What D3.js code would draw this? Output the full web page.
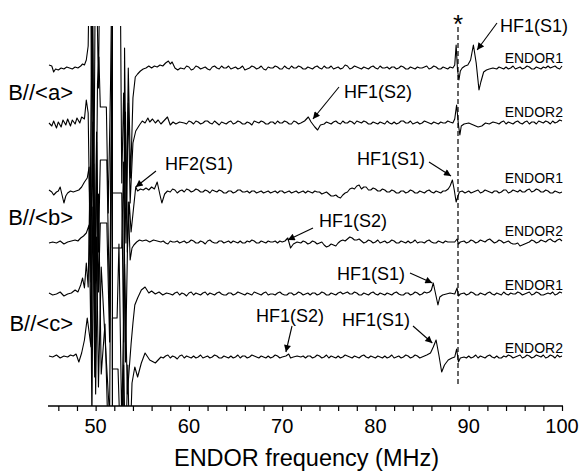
<!DOCTYPE html>
<html><head><meta charset="utf-8">
<script src="https://cdn.jsdelivr.net/npm/d3@7"></script>
<style>
html,body{margin:0;padding:0;background:#fff;}
svg{display:block;font-family:"Liberation Sans",Arial,sans-serif;}
</style></head>
<body><svg id="chart" width="581" height="472"></svg>
<script>
// ---- data (frequency in MHz, signal in arbitrary units relative to each trace baseline) ----
const freqDomain = [45, 100];
const majorTicks = [50, 60, 70, 80, 90, 100];
const minorTicks = [46,48,50,52,54,56,58,60,62,64,66,68,70,72,74,76,78,80,82,84,86,88,90,92,94,96,98,100];
const traceNames = ["ENDOR1","ENDOR2","ENDOR1","ENDOR2","ENDOR1","ENDOR2"];
const traceOffsets = [338, 283, 214, 164, 112, 49];
const orientationLabels = ["B//<a>", "B//<b>", "B//<c>"];
const starFreq = 88.85;

const trace1 = [
[45.0,3],[45.3,2],[45.5,-4],[45.7,-1],[46.0,-2],[46.3,0],[46.6,-1],[46.9,1],[47.2,0],[47.5,-1],[47.8,1],[48.1,0],[48.4,2],[48.6,4],[48.8,3],[49.0,8],[49.2,22],
[49.4,150],[49.6,-50],[49.8,-140],[50.0,150],[50.3,-20],[50.5,150],[51.8,150],[51.8,-360],[53.0,-360],[53.1,20],[53.3,-150],[53.5,0],[53.75,-110],[54.0,-30],[54.25,-9],
[54.5,-6],[54.8,-3],[55.1,-1],[55.4,0],[55.7,2],[56.0,0],[56.3,2],[56.6,1],[56.9,3],[57.2,2],[57.5,5],[57.8,7],[58.0,4],[58.2,6],[58.5,0],[58.8,-2],[59.1,0],[59.5,-1],[60.0,1],[60.5,-1],[61.0,1],[61.5,0],[62.0,-1],[62.5,1],[63.0,0],[63.5,2],[64.0,0],[64.5,-1],[65.0,1],[65.5,0],[66.0,-2],[66.5,0],[67.0,1],[67.5,0],[68.0,-1],[68.5,1],[69.0,0],[69.5,1],[70.0,-1],[70.5,0],[71.0,2],[71.5,0],[72.0,1],[72.5,-1],[73.0,0],[73.5,1],[74.0,0],[74.5,2],[75.0,0],[75.5,-1],[76.0,1],[76.5,0],[77.0,2],[77.5,0],[78.0,1],[78.5,-1],[79.0,0],[79.5,1],[80.0,0],[80.5,2],[81.0,0],[81.5,-1],[82.0,1],[82.5,0],[83.0,1],[83.5,-1],[84.0,0],[84.5,1],[85.0,0],[85.5,2],[86.0,0],[86.5,1],[87.0,-1],[87.5,0],[88.0,1],[88.3,0],[88.5,3],[88.65,23],[88.8,-2],[88.95,-12],[89.1,-3],[89.3,0],[89.6,2],[89.9,3],[90.2,8],[90.5,23],[90.8,5],[91.1,-22],[91.3,-14],[91.6,-4],[91.9,-2],[92.2,-1],[92.6,0],[93.0,-1],[93.5,0],[94.0,1],[94.5,0],[95.0,-1],[95.5,1],[96.0,0],[96.5,1],[97.0,-1],[97.5,0],[98.0,1],[98.5,2],[99.0,1],[99.5,0],[100.0,2]
];
const trace1Fine = [
[59.75,2],[60.25,-2],[60.75,2],[61.25,-1],[61.75,1],[62.25,-2],[62.75,2],[63.25,-1],[63.75,0],[64.25,2],[64.75,0],[65.25,-1],[65.75,2],[66.25,-1],[66.75,2],[67.25,-1],[67.75,2],[68.25,-2],[68.75,0],[69.25,2],[69.75,-1],[70.25,2],[70.75,-1],[71.25,0],[71.75,2],[72.25,-1],[72.75,1],[73.25,-1],[73.75,2],[74.25,-1],[74.75,0],[75.25,2],[75.75,0],[76.25,-1],[76.75,3],[77.25,-1],[77.75,2],[78.25,0],[78.75,1],[79.25,-1],[79.75,2],[80.25,-1],[80.75,0],[81.25,1],[81.75,1],[82.25,-1],[82.75,2],[83.25,-1],[83.75,1],[84.25,-1],[84.75,0],[85.25,1],[85.75,-1],[86.25,2],[86.75,-1],[87.25,1],[87.75,-1],
[93.25,1],[93.75,-1],[94.25,-1],[94.75,2],[95.25,0],[95.75,-1],[96.25,2],[96.75,-1],[97.25,1],[97.75,-1],[98.25,0],[98.75,0],[99.25,2],[99.75,-1]
];
const trace2 = [
[45.0,0],[45.3,-3],[45.5,2],[45.8,-5],[46.0,1],[46.3,-4],[46.5,3],[46.8,-2],[47.0,4],[47.3,-3],[47.5,3],[47.8,-1],[48.0,5],[48.3,0],[48.5,6],[48.8,4],[49.0,23],[49.2,10],
[49.4,-120],[49.6,150],[49.8,-40],[50.0,-160],[50.2,40],[50.35,66],[50.5,16],[51.15,16],[51.35,-90],[51.6,40],[51.8,200],[52.6,200],[52.8,-60],[53.0,30],[53.25,-120],[53.5,20],[53.7,-80],[54.0,-20],[54.3,-8],
[54.7,-2],[55.0,2],[55.3,0],[55.6,5],[55.8,1],[56.1,4],[56.4,0],[56.7,3],[57.0,-1],[57.3,2],[57.7,6],[58.0,-2],[58.3,1],[58.6,-1],[59.0,1],[59.5,0],[60.0,2],[60.5,-1],[61.0,1],[61.5,0],[62.0,2],[62.5,-1],[63.0,0],[63.5,1],[64.0,-1],[64.5,2],[65.0,0],[65.5,1],[66.0,-1],[66.5,0],[67.0,2],[67.5,0],[68.0,1],[68.5,-1],[69.0,1],[69.5,2],[70.0,0],[70.5,1],[71.0,-1],[71.5,1],[72.0,0],[72.4,2],[72.8,6],[73.1,1],[73.5,-4],[73.8,-7],[74.1,-2],[74.5,-1],[75.0,0],[75.5,1],[76.0,0],[76.5,2],[77.0,0],[77.5,1],[78.0,2],[78.5,0],[79.0,1],[79.5,-1],[80.0,0],[80.5,1],[81.0,-1],[81.5,0],[82.0,1],[82.5,0],[83.0,2],[83.5,0],[84.0,-1],[84.5,1],[85.0,0],[85.5,1],[86.0,-1],[86.5,0],[87.0,1],[87.5,0],[88.0,1],[88.3,0],[88.5,4],[88.7,18],[88.9,-2],[89.05,-12],[89.2,-3],[89.5,-1],[90.0,0],[90.5,-2],[91.0,-4],[91.4,-3],[91.8,0],[92.2,-1],[92.6,1],[93.0,0],[93.5,1],[94.0,-1],[94.5,0],[95.0,1],[95.5,0],[96.0,1],[96.5,-1],[97.0,1],[97.5,2],[98.0,0],[98.5,1],[99.0,2],[99.5,1],[100.0,2]
];
const trace2Fine = [
[59.75,-1],[60.25,1],[60.75,2],[61.25,-1],[61.75,2],[62.25,0],[62.75,2],[63.25,-2],[63.75,0],[64.25,1],[64.75,-1],[65.25,2],[65.75,-1],[66.25,1],[66.75,-2],[67.25,1],[67.75,2],[68.25,-1],[68.75,1],[69.25,-1],[69.75,0],[70.25,2],[70.75,-1],[71.25,2],[71.75,-1],
[74.75,1],[75.25,-1],[75.75,2],[76.25,-1],[76.75,0],[77.25,2],[77.75,-1],[78.25,1],[78.75,2],[79.25,-1],[79.75,1],[80.25,-1],[80.75,0],[81.25,2],[81.75,-1],[82.25,-1],[82.75,2],[83.25,0],[83.75,2],[84.25,0],[84.75,-1],[85.25,2],[85.75,0],[86.25,1],[86.75,-1],[87.25,0],[87.75,2],
[93.25,-1],[93.75,2],[94.25,1],[94.75,-1],[95.25,2],[95.75,-1],[96.25,2],[96.75,1],[97.25,-1],[97.75,1],[98.25,2],[98.75,-1],[99.25,0],[99.75,3]
];
const trace3 = [
[45.0,2],[45.3,0],[45.5,-3],[45.8,0],[46.0,1],[46.2,5],[46.4,-3],[46.6,-11],[46.8,-4],[47.0,-1],[47.3,1],[47.6,0],[47.9,1],[48.2,2],[48.5,5],[48.8,10],[49.1,14],[49.3,25],
[49.5,-90],[49.7,180],[49.9,-120],[50.1,60],[50.3,-60],[50.5,32],[51.2,32],[51.5,-120],[51.8,200],[51.8,-1],[52.8,-1],[53.0,-150],[53.2,80],[53.4,-60],[53.6,-10],[53.8,-40],[54.0,-22],[54.3,5],
[54.5,1],[54.8,3],[55.1,2],[55.4,4],[55.7,2],[56.0,5],[56.3,3],[56.6,10],[56.9,-3],[57.1,-11],[57.4,-2],[57.7,1],[58.0,0],[58.5,2],[59.0,1],[59.5,0],[60.0,2],[60.5,1],[61.0,2],[61.5,0],[62.0,1],[62.5,2],[63.0,0],[63.5,1],[64.0,-1],[64.5,1],[65.0,0],[65.5,2],[66.0,0],[66.5,-1],[67.0,1],[67.5,0],[68.0,-1],[68.5,1],[69.0,0],[69.5,-1],[70.0,1],[70.5,0],[71.0,-1],[71.5,1],[72.0,0],[72.5,-1],[73.0,0],[73.5,1],[74.0,0],[74.5,-1],[75.0,-2],[75.5,-4],[76.0,-5],[76.5,-3],[77.0,0],[77.5,4],[78.0,6],[78.5,3],[79.0,5],[79.5,2],[80.0,3],[80.5,1],[81.0,2],[81.5,0],[82.0,1],[82.5,-1],[83.0,1],[83.5,0],[84.0,1],[84.5,-1],[85.0,0],[85.5,1],[86.0,0],[86.5,1],[87.0,-1],[87.5,1],[87.8,3],[88.0,6],[88.25,12],[88.45,2],[88.65,-10],[88.85,-4],[89.0,0],[89.3,1],[89.6,-1],[90.0,1],[90.5,0],[91.0,2],[91.5,0],[92.0,1],[92.5,-1],[93.0,1],[93.5,0],[94.0,2],[94.5,0],[95.0,1],[95.5,2],[96.0,0],[96.5,3],[97.0,1],[97.5,2],[98.0,0],[98.5,1],[99.0,-1],[99.5,0],[100.0,0]
];
const trace3Fine = [
[58.25,3],[58.75,-1],[59.25,2],[59.75,3],[60.25,0],[60.75,3],[61.25,0],[61.75,2],[62.25,-1],[62.75,1],[63.25,2],[63.75,-1],[64.25,1],[64.75,-1],[65.25,2],[65.75,0],[66.25,1],[66.75,1],[67.25,-1],[67.75,1],[68.25,0],[68.75,-1],[69.25,1],[69.75,1],[70.25,-1],[70.75,1],[71.25,0],[71.75,-1],[72.25,1],[72.75,1],[73.25,-1],[73.75,0],[74.25,-2],[74.75,0],[75.25,-4],[75.75,-3],[76.25,-6],[76.75,-1],[77.25,3],[77.75,3],[78.25,7],[78.75,5],[79.25,2],[79.75,4],[80.25,1],[80.75,3],[81.25,0],[81.75,2],[82.25,-1],[82.75,1],[83.25,-1],[83.75,2],[84.25,-1],[84.75,1],[85.25,-1],[85.75,2],[86.25,-1],[86.75,0],[87.25,1],
[90.25,-1],[90.75,1],[91.25,-1],[91.75,2],[92.25,0],[92.75,1],[93.25,-1],[93.75,2],[94.25,-1],[94.75,2],[95.25,0],[95.75,0],[96.25,2],[96.75,0],[97.25,3],[97.75,0],[98.25,2],[98.75,-1],[99.25,1],[99.75,-1]
];
const trace4 = [
[45.0,-1],[45.4,0],[45.8,-1],[46.2,1],[46.6,-2],[47.0,0],[47.4,1],[47.8,2],[48.1,1],[48.4,4],[48.7,6],[49.0,9],[49.3,17],
[49.5,-100],[49.7,120],[49.9,-90],[50.1,100],[50.3,-50],[50.5,19],[51.2,19],[51.5,-100],[51.8,200],[51.8,-6],[52.8,-6],[53.0,80],[53.2,-120],[53.5,40],[53.7,-18],[53.9,-6],[54.1,-3],
[54.4,0],[54.7,2],[55.0,1],[55.4,2],[55.8,0],[56.2,2],[56.6,1],[57.0,0],[57.5,-1],[58.0,1],[58.5,0],[59.0,-1],[59.5,1],[60.0,0],[60.5,1],[61.0,-1],[61.5,0],[62.0,1],[62.5,0],[63.0,-1],[63.5,1],[64.0,0],[64.5,-1],[65.0,0],[65.5,1],[66.0,-1],[66.5,0],[67.0,1],[67.5,-1],[68.0,0],[68.5,1],[69.0,0],[69.5,-1],[70.0,0],[70.3,1],[70.6,4],[70.9,-6],[71.2,-2],[71.6,0],[72.0,-1],[72.5,0],[73.0,-1],[73.5,0],[74.0,-1],[74.5,-3],[75.0,-4],[75.5,-3],[76.0,-1],[76.5,2],[77.0,3],[77.5,4],[78.0,2],[78.5,1],[79.0,0],[79.5,1],[80.0,0],[80.5,-1],[81.0,1],[81.5,0],[82.0,1],[82.5,-1],[83.0,0],[83.5,1],[84.0,0],[84.5,-1],[85.0,0],[85.5,1],[86.0,0],[86.5,-1],[87.0,0],[87.5,1],[88.0,0],[88.5,0],[88.75,3],[88.9,-2],[89.1,0],[89.5,1],[90.0,0],[90.5,1],[91.0,0],[91.5,1],[92.0,2],[92.5,1],[93.0,0],[93.5,1],[94.0,0],[94.5,-1],[95.0,-2],[95.5,-4],[96.0,-2],[96.5,0],[97.0,1],[97.5,0],[98.0,1],[98.5,2],[99.0,1],[99.5,2],[100.0,1]
];
const trace4Fine = [
[57.25,1],[57.75,-2],[58.25,0],[58.75,1],[59.25,0],[59.75,-1],[60.25,2],[60.75,-1],[61.25,1],[61.75,-2],[62.25,2],[62.75,-1],[63.25,1],[63.75,-1],[64.25,1],[64.75,1],[65.25,-1],[65.75,-1],[66.25,1],[66.75,2],[67.25,-1],[67.75,1],[68.25,-1],[68.75,0],[69.25,1],[69.75,1],
[72.25,1],[72.75,-2],[73.25,1],[73.75,-2],[74.25,0],[74.75,-5],[75.25,-2],[75.75,-4],[76.25,1],[76.75,1],[77.25,5],[77.75,2],[78.25,3],[78.75,-1],[79.25,2],[79.75,-1],[80.25,2],[80.75,0],[81.25,-1],[81.75,2],[82.25,-1],[82.75,1],[83.25,-1],[83.75,-1],[84.25,2],[84.75,0],[85.25,-1],[85.75,2],[86.25,-1],[86.75,1],[87.25,-1],[87.75,0],
[89.75,-1],[90.25,2],[90.75,-1],[91.25,2],[91.75,0],[92.25,3],[92.75,-1],[93.25,2],[93.75,-1],[94.25,1],[94.75,-2],[95.25,-1],[95.75,-3],[96.25,-1],[96.75,2],[97.25,-1],[97.75,2],[98.25,0],[98.75,3],[99.25,0],[99.75,3]
];
const trace5 = [
[45.0,1],[45.4,-1],[45.8,0],[46.2,2],[46.6,-2],[47.0,0],[47.4,1],[47.8,4],[48.1,2],[48.4,9],[48.6,16],[48.8,6],[49.0,31],[49.2,7],
[49.4,120],[49.6,-130],[49.8,130],[50.0,-100],[50.3,100],[50.6,-80],[51.0,-30],[51.3,-130],[51.8,-130],[51.8,-24],[52.3,-24],[52.5,50],[52.8,-130],[53.1,30],[53.4,-100],[53.8,-50],[54.0,-29],[54.2,-11],
[54.5,-4],[54.9,4],[55.3,7],[55.7,1],[56.0,3],[56.4,0],[56.8,2],[57.2,-1],[57.6,1],[58.0,0],[58.5,1],[59.0,-1],[59.5,0],[60.0,1],[60.5,-1],[61.0,0],[61.5,1],[62.0,-1],[62.5,0],[63.0,1],[63.5,0],[64.0,-1],[64.5,1],[65.0,0],[65.5,1],[66.0,-1],[66.5,0],[67.0,2],[67.5,0],[68.0,1],[68.5,-1],[69.0,0],[69.5,1],[70.0,0],[70.5,-1],[71.0,1],[71.5,0],[72.0,1],[72.5,0],[73.0,-1],[73.5,1],[74.0,0],[74.5,1],[75.0,-1],[75.5,0],[76.0,1],[76.5,0],[77.0,2],[77.5,0],[78.0,1],[78.5,-1],[79.0,0],[79.5,1],[80.0,0],[80.5,1],[81.0,-1],[81.5,0],[82.0,1],[82.5,0],[83.0,-1],[83.5,1],[84.0,0],[84.5,1],[85.0,0],[85.5,1],[85.8,2],[86.0,4],[86.2,11],[86.45,0],[86.7,-11],[86.9,-3],[87.2,-1],[87.6,0],[88.0,1],[88.5,0],[88.75,6],[88.9,-2],[89.1,0],[89.5,1],[90.0,0],[90.5,1],[91.0,-1],[91.5,0],[92.0,1],[92.5,0],[93.0,1],[93.5,-1],[94.0,0],[94.5,1],[95.0,0],[95.5,1],[96.0,0],[96.5,2],[97.0,0],[97.5,1],[98.0,-1],[98.5,1],[99.0,2],[99.5,0],[100.0,1]
];
const trace5Fine = [
[58.25,-1],[58.75,2],[59.25,1],[59.75,-2],[60.25,2],[60.75,1],[61.25,-1],[61.75,2],[62.25,1],[62.75,-1],[63.25,2],[63.75,-1],[64.25,1],[64.75,-1],[65.25,2],[65.75,0],[66.25,1],[66.75,-1],[67.25,1],[67.75,-1],[68.25,2],[68.75,0],[69.25,-1],[69.75,2],[70.25,-1],[70.75,1],[71.25,-1],[71.75,2],[72.25,-1],[72.75,1],[73.25,1],[73.75,-1],[74.25,2],[74.75,-1],[75.25,1],[75.75,-1],[76.25,2],[76.75,1],[77.25,0],[77.75,2],[78.25,-1],[78.75,1],[79.25,-1],[79.75,2],[80.25,-1],[80.75,0],[81.25,1],[81.75,-1],[82.25,2],[82.75,-1],[83.25,1],[83.75,-1],[84.25,2],[84.75,-1],[85.25,2],
[89.75,-1],[90.25,2],[90.75,-1],[91.25,1],[91.75,-1],[92.25,2],[92.75,-1],[93.25,0],[93.75,2],[94.25,-1],[94.75,0],[95.25,2],[95.75,-1],[96.25,1],[96.75,-1],[97.25,2],[97.75,-1],[98.25,0],[98.75,0],[99.25,-1],[99.75,2]
];
const trace6 = [
[45.0,1],[45.4,0],[45.8,2],[46.2,-1],[46.6,1],[47.0,0],[47.3,2],[47.6,1],[47.9,3],[48.2,-5],[48.5,4],[48.8,17],[49.1,39],[49.3,25],[49.5,10],
[49.7,150],[49.9,-20],[50.1,120],[50.3,-30],[50.6,90],[51.0,20],[51.5,-60],[51.8,380],[51.8,-12],[52.4,-12],[52.7,-100],[53.0,-8],[53.2,-100],[53.45,-8],[53.65,-100],[53.9,-26],[54.2,-10],[54.5,-20],[54.9,-6],[55.3,4],[55.8,-3],[56.4,-6],[57.0,0],
[57.5,1],[58.0,-1],[58.5,0],[59.0,1],[59.5,-1],[60.0,0],[60.5,1],[61.0,0],[61.5,-1],[62.0,1],[62.5,0],[63.0,1],[63.5,-1],[64.0,0],[64.5,1],[65.0,0],[65.5,-1],[66.0,1],[66.5,0],[67.0,1],[67.5,-1],[68.0,0],[68.5,1],[69.0,0],[69.5,1],[70.0,0],[70.4,1],[70.7,3],[70.9,-1],[71.2,0],[71.6,1],[72.0,0],[72.5,-1],[73.0,1],[73.5,0],[74.0,1],[74.5,0],[75.0,-1],[75.5,0],[76.0,1],[76.5,0],[77.0,1],[77.5,-1],[78.0,0],[78.5,1],[79.0,0],[79.5,1],[80.0,-1],[80.5,0],[81.0,1],[81.5,0],[82.0,-1],[82.5,1],[83.0,0],[83.5,1],[84.0,0],[84.5,1],[85.0,0],[85.5,2],[85.9,4],[86.2,10],[86.5,17],[86.8,2],[87.1,-15],[87.4,-8],[87.8,-3],[88.2,-1],[88.5,0],[88.7,8],[88.9,-5],[89.1,-1],[89.5,0],[90.0,1],[90.5,0],[91.0,-1],[91.5,0],[92.0,1],[92.5,0],[93.0,1],[93.5,-1],[94.0,0],[94.5,1],[95.0,0],[95.5,2],[96.0,0],[96.5,1],[97.0,0],[97.5,1],[98.0,2],[98.5,0],[99.0,1],[99.5,2],[100.0,1]
];
const trace6Fine = [
[57.25,-1],[57.75,2],[58.25,1],[58.75,-2],[59.25,2],[59.75,1],[60.25,-1],[60.75,-1],[61.25,2],[61.75,0],[62.25,-1],[62.75,2],[63.25,-1],[63.75,1],[64.25,-1],[64.75,-1],[65.25,2],[65.75,1],[66.25,-1],[66.75,2],[67.25,0],[67.75,1],[68.25,-1],[68.75,-1],[69.25,2],[69.75,-1],
[72.25,1],[72.75,1],[73.25,-1],[73.75,2],[74.25,-1],[74.75,2],[75.25,1],[75.75,-1],[76.25,-1],[76.75,2],[77.25,0],[77.75,1],[78.25,-1],[78.75,2],[79.25,-1],[79.75,0],[80.25,1],[80.75,-1],[81.25,-1],[81.75,2],[82.25,0],[82.75,-1],[83.25,2],[83.75,-1],[84.25,2],[84.75,-1],[85.25,1],
[89.75,-1],[90.25,-1],[90.75,2],[91.25,1],[91.75,-1],[92.25,2],[92.75,-1],[93.25,-1],[93.75,1],[94.25,2],[94.75,-1],[95.25,1],[95.75,-1],[96.25,2],[96.75,-1],[97.25,2],[97.75,0],[98.25,-1],[98.75,2],[99.25,-1],[99.75,0]
];
const traceSamples = [[trace1, trace1Fine],[trace2, trace2Fine],[trace3, trace3Fine],[trace4, trace4Fine],[trace5, trace5Fine],[trace6, trace6Fine]];

// annotation texts and the peak (frequency, trace index, signal) each arrow points to
const annotationTexts = ["HF1(S1)","HF1(S2)","HF2(S1)","HF1(S1)","HF1(S2)","HF1(S1)","HF1(S2)","HF1(S1)"];
const annotationTips = [[90.9,0,18],[73.3,1,4],[54.3,2,5],[88.1,2,16],[70.6,3,2],[86.1,4,11],[70.4,5,5],[86.1,5,14]];

// ---- build full series (stable sort keeps the order of equal-frequency samples) ----
const traces = traceSamples.map(([a, b]) => a.concat(b).map((d, i) => ({f: d[0], v: d[1], i}))
  .sort((p, q) => p.f - q.f || p.i - q.i));

// ---- layout ----
const svg = d3.select("#chart");
const x = d3.scaleLinear().domain(freqDomain).range([49, 562]);
const y = d3.scaleLinear().domain([0, 380]).range([406, 26]);
const FONT = '"Liberation Sans", Arial, sans-serif';

svg.append("defs").append("clipPath").attr("id","plotclip")
  .append("rect").attr("x", 40).attr("y", 26).attr("width", 530).attr("height", 380);
const marker = svg.select("defs").append("marker").attr("id","arrow")
  .attr("viewBox","0 0 10 10").attr("refX",10).attr("refY",5)
  .attr("markerWidth",9).attr("markerHeight",7).attr("markerUnits","userSpaceOnUse")
  .attr("orient","auto");
marker.append("path").attr("d","M0,0 L10,5 L0,10 Z").attr("fill","#000");

const plot = svg.append("g").attr("clip-path","url(#plotclip)");
traces.forEach((tr, k) => {
  const line = d3.line().x(d => x(d.f)).y(d => y(traceOffsets[k] + d.v));
  plot.append("path").datum(tr)
    .attr("fill","none").attr("stroke","#000").attr("stroke-width",1.1)
    .attr("stroke-linejoin","round")
    .attr("d", line);
});

// dashed marker line and asterisk
svg.append("line").attr("x1", x(starFreq)).attr("x2", x(starFreq))
  .attr("y1", 27).attr("y2", 385)
  .attr("stroke","#000").attr("stroke-width",1.2).attr("stroke-dasharray","5,3");
svg.append("text").attr("x", x(starFreq)).attr("y", 33).attr("text-anchor","middle")
  .attr("font-size", 26).attr("font-family", FONT).text("*");

// x axis
const axis = d3.axisBottom(x).tickValues(minorTicks).tickSize(5).tickFormat("");
const gx = svg.append("g").attr("transform","translate(0,406)").call(axis);
gx.select(".domain").attr("d", `M${x(45)-1},0H${x(100)+1}`).attr("stroke-width",1.3);
gx.selectAll(".tick line").attr("stroke-width",1.2);
svg.append("g").selectAll("text").data(majorTicks).join("text")
  .attr("x", d => x(d)).attr("y", 433).attr("text-anchor","middle")
  .attr("font-size", 20).attr("font-family", FONT).text(d => d);
svg.append("text").attr("x", (x(45)+x(100))/2 + 1).attr("y", 466).attr("text-anchor","middle")
  .attr("font-size", 23.5).attr("font-family", FONT).text("ENDOR frequency (MHz)");

// trace names
const namePos = [63, 117, 183, 236, 290, 353];
traceNames.forEach((n, i) => {
  svg.append("text").attr("x", 563).attr("y", namePos[i]).attr("text-anchor","end")
    .attr("font-size", 14).attr("font-family", FONT).text(n);
});

// orientation labels
const orientPos = [100, 225, 331];
orientationLabels.forEach((t, i) => {
  svg.append("text").attr("x", 73).attr("y", orientPos[i]).attr("text-anchor","end")
    .attr("font-size", 22).attr("font-family", FONT).text(t);
});

// annotations
const annTextPos = [[500,32,"start"],[344,98,"start"],[165,170,"start"],[425,165,"end"],[319,227,"start"],[337,280,"start"],[256,322,"start"],[342,326,"start"]];
const annArrowStart = [[497,23],[339,87],[156,171],[429,162],[313,228],[410,273],[292,326],[413,326]];
annotationTexts.forEach((t, i) => {
  const p = annTextPos[i];
  svg.append("text").attr("x", p[0]).attr("y", p[1]).attr("text-anchor", p[2])
    .attr("font-size", 18).attr("font-family", FONT).text(t);
  const tip = annotationTips[i];
  svg.append("line")
    .attr("x1", annArrowStart[i][0]).attr("y1", annArrowStart[i][1])
    .attr("x2", x(tip[0])).attr("y2", y(traceOffsets[tip[1]] + tip[2]))
    .attr("stroke","#000").attr("stroke-width",1.1).attr("marker-end","url(#arrow)");
});
</script></body></html>
